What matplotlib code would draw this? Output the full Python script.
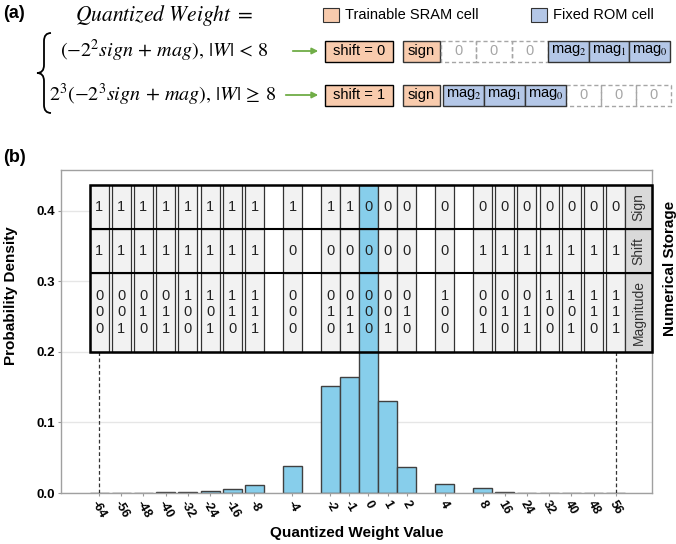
import numpy as np
import matplotlib.pyplot as plt
from matplotlib.patches import Rectangle, PathPatch, FancyArrowPatch
from matplotlib.path import Path

plt.rcParams['font.family'] = ['Liberation Sans', 'DejaVu Sans']
plt.rcParams['mathtext.fontset'] = 'stix'

# data
weights = [-64, -56, -48, -40, -32, -24, -16, -8, -4, -2, -1, 0, 1, 2, 4, 8, 16, 24, 32, 40, 48, 56]
density = [0.0002, 0.0003, 0.0005, 0.0008, 0.0011, 0.0022, 0.0055, 0.011, 0.038, 0.151, 0.165, 0.42,
           0.130, 0.037, 0.013, 0.0066, 0.0016, 0.0006, 0.0004, 0.0003, 0.0002, 0.0002]
sign_bits = [1, 1, 1, 1, 1, 1, 1, 1, 1, 1, 1, 0, 0, 0, 0, 0, 0, 0, 0, 0, 0, 0]
shift_bits = [1, 1, 1, 1, 1, 1, 1, 1, 0, 0, 0, 0, 0, 0, 0, 1, 1, 1, 1, 1, 1, 1]
mag_bits = ['000', '001', '010', '011', '100', '101', '110', '111', '000', '010', '011', '000',
            '001', '010', '100', '001', '010', '011', '100', '101', '110', '111']
row_names = ['Sign', 'Shift', 'Magnitude']

SKY = '#87CEEB'
PEACH = '#F8CBAD'
ROMBLUE = '#B4C7E7'
GREEN = '#70AD47'


# x slot of each weight: small values sit on unit slots, big ones on a wider step
def slot(v):
    if abs(v) <= 4:
        return float(v)
    return np.sign(v) * (6 + (abs(v) // 8 - 1) * 1.168)


pos = np.array([slot(v) for v in weights])

fig = plt.figure(figsize=(6.76, 5.44), dpi=100)

# ---------- panel (a): drawn in pixel coordinates ----------
top_ax = fig.add_axes([0, 0, 1, 1])
top_ax.set_xlim(0, 676)
top_ax.set_ylim(544, 0)
top_ax.axis('off')

top_ax.text(3, 13, '(a)', fontsize=13, fontweight='bold', va='center')
top_ax.text(75, 15, r'$Quantized\ Weight\ =$', fontsize=15.5, va='center')

# legend
top_ax.add_patch(Rectangle((323, 8), 16, 14, fc=PEACH, ec='#333', lw=0.8))
top_ax.text(345, 15, 'Trainable SRAM cell', fontsize=10.5, va='center')
top_ax.add_patch(Rectangle((531, 8), 16, 14, fc=ROMBLUE, ec='#333', lw=0.8))
top_ax.text(553, 15, 'Fixed ROM cell', fontsize=10.5, va='center')

# brace
bt, bm, bb = 33, 73, 113
verts = [(51, bt), (44, bt), (44, bt + 8), (44, bm - 8), (44, bm), (37, bm),
         (44, bm), (44, bm + 8), (44, bb - 8), (44, bb), (51, bb)]
codes = [Path.MOVETO, Path.CURVE3, Path.CURVE3, Path.LINETO, Path.CURVE3, Path.CURVE3,
         Path.CURVE3, Path.CURVE3, Path.LINETO, Path.CURVE3, Path.CURVE3]
top_ax.add_patch(PathPatch(Path(verts, codes), fill=False, lw=1.3, ec='black'))

row_y = [51, 95]
top_ax.text(60, row_y[0], r'$(-2^{2}sign\,+\,mag),\,|W|\,<\,8$', fontsize=14.5, va='center')
top_ax.text(49, row_y[1], r'$2^{3}(-2^{3}sign\,+\,mag),\,|W|\,\geq\,8$', fontsize=14.5, va='center')

for k, y in enumerate(row_y):
    x0 = 290 if k == 0 else 283
    top_ax.add_patch(FancyArrowPatch((x0, y), (321, y), arrowstyle='-|>', mutation_scale=9,
                                     color=GREEN, lw=1.3))
    top_ax.add_patch(Rectangle((325, y - 10.5), 68, 21, fc=PEACH, ec='black', lw=1))
    top_ax.text(359, y, 'shift = %d' % k, fontsize=10.5, ha='center', va='center')
    top_ax.add_patch(Rectangle((403, y - 10.5), 37, 21, fc=PEACH, ec='#333', lw=1))
    top_ax.text(421.5, y, 'sign', fontsize=10.5, ha='center', va='center')
    if k == 0:
        zeros = [(441, 476), (476, 512), (512, 548)]
        mags = [(548, 589), (589, 629), (629, 670)]
    else:
        mags = [(443, 484), (484, 525), (525, 566)]
        zeros = [(566, 601), (601, 636), (636, 671)]
    for a, b in zeros:
        top_ax.add_patch(Rectangle((a, y - 10.5), b - a, 21, fill=False, ec='#a6a6a6', lw=1, ls=(0, (3, 2))))
        top_ax.text((a + b) / 2, y, '0', fontsize=10.5, color='#a6a6a6', ha='center', va='center')
    for j, (a, b) in enumerate(mags):
        top_ax.add_patch(Rectangle((a, y - 10.5), b - a, 21, fc=ROMBLUE, ec='#333', lw=1))
        top_ax.text((a + b) / 2, y, r'mag$_{%d}$' % (2 - j), fontsize=10.5, ha='center', va='center')

top_ax.text(3, 158, '(b)', fontsize=13, fontweight='bold', va='center')
top_ax.text(670, 268, 'Numerical Storage', fontsize=11, fontweight='bold', rotation=90,
            ha='center', va='center')

# ---------- panel (b): histogram + bit table ----------
ax = fig.add_axes([61 / 676, 51 / 544, 590.7 / 676, 323 / 544])

ax.bar(pos, density, width=1.0, color=SKY, edgecolor='#404040', linewidth=1, zorder=2)

t_top, t_b1, t_b2, t_bot = 0.436, 0.374, 0.312, 0.2
rows = [(t_b1, t_top), (t_b2, t_b1), (t_bot, t_b2)]
for i, v in enumerate(weights):
    fc = SKY if v == 0 else '#f2f2f2'
    texts = [str(sign_bits[i]), str(shift_bits[i]), '\n'.join(mag_bits[i])]
    for (y0, y1), t in zip(rows, texts):
        ax.add_patch(Rectangle((pos[i] - 0.5, y0), 1, y1 - y0, fc=fc, ec='#333', lw=0.9, zorder=4))
        ax.text(pos[i], (y0 + y1) / 2, t, ha='center', va='center', fontsize=10.5,
                linespacing=1.25, color='#222', zorder=5)

t_left = pos[0] - 0.5
lab_left = pos[-1] + 0.5
lab_right = lab_left + 1.39
ax.add_patch(Rectangle((t_left, t_bot), lab_right - t_left, t_top - t_bot, fc='white', ec='none', zorder=3))
for (y0, y1), name in zip(rows, row_names):
    ax.add_patch(Rectangle((lab_left, y0), lab_right - lab_left, y1 - y0, fc='#d9d9d9', ec='#333',
                           lw=0.9, zorder=4, clip_on=False))
    ax.text((lab_left + lab_right) / 2, (y0 + y1) / 2, name, rotation=90, ha='center', va='center',
            fontsize=10, color='#333', zorder=5)
ax.hlines([t_b1, t_b2], t_left, lab_right, color='black', lw=1.5, zorder=6)
ax.add_patch(Rectangle((t_left, t_bot), lab_right - t_left, t_top - t_bot, fill=False, ec='black',
                       lw=1.8, zorder=6, clip_on=False))

ax.vlines([pos[0], pos[-1]], 0, t_bot, colors='#333', lw=0.9, linestyles=(0, (3, 2)), zorder=3)

ax.set_xlim(pos[0] - 2.0, lab_right)
ax.set_ylim(0, 0.4575)
ax.set_xticks(pos)
ax.set_xticklabels([str(v) for v in weights], rotation=-60, fontsize=9, fontweight='bold')
ax.set_yticks([0, 0.1, 0.2, 0.3, 0.4])
ax.set_yticklabels(['0.0', '0.1', '0.2', '0.3', '0.4'], fontsize=9.5, fontweight='bold')
ax.yaxis.grid(True, color='#e6e6e6', lw=1)
ax.set_axisbelow(True)
ax.tick_params(axis='both', length=2, color='#999', pad=2)
for s in ax.spines.values():
    s.set_color('#a0a0a0')
    s.set_linewidth(1)

ax.set_xlabel('Quantized Weight Value', fontsize=11, fontweight='bold', labelpad=4)
ax.set_ylabel('Probability Density', fontsize=11, fontweight='bold')
ax.yaxis.set_label_coords(-0.073, 0.61)

fig.savefig('out.png', dpi=100)
